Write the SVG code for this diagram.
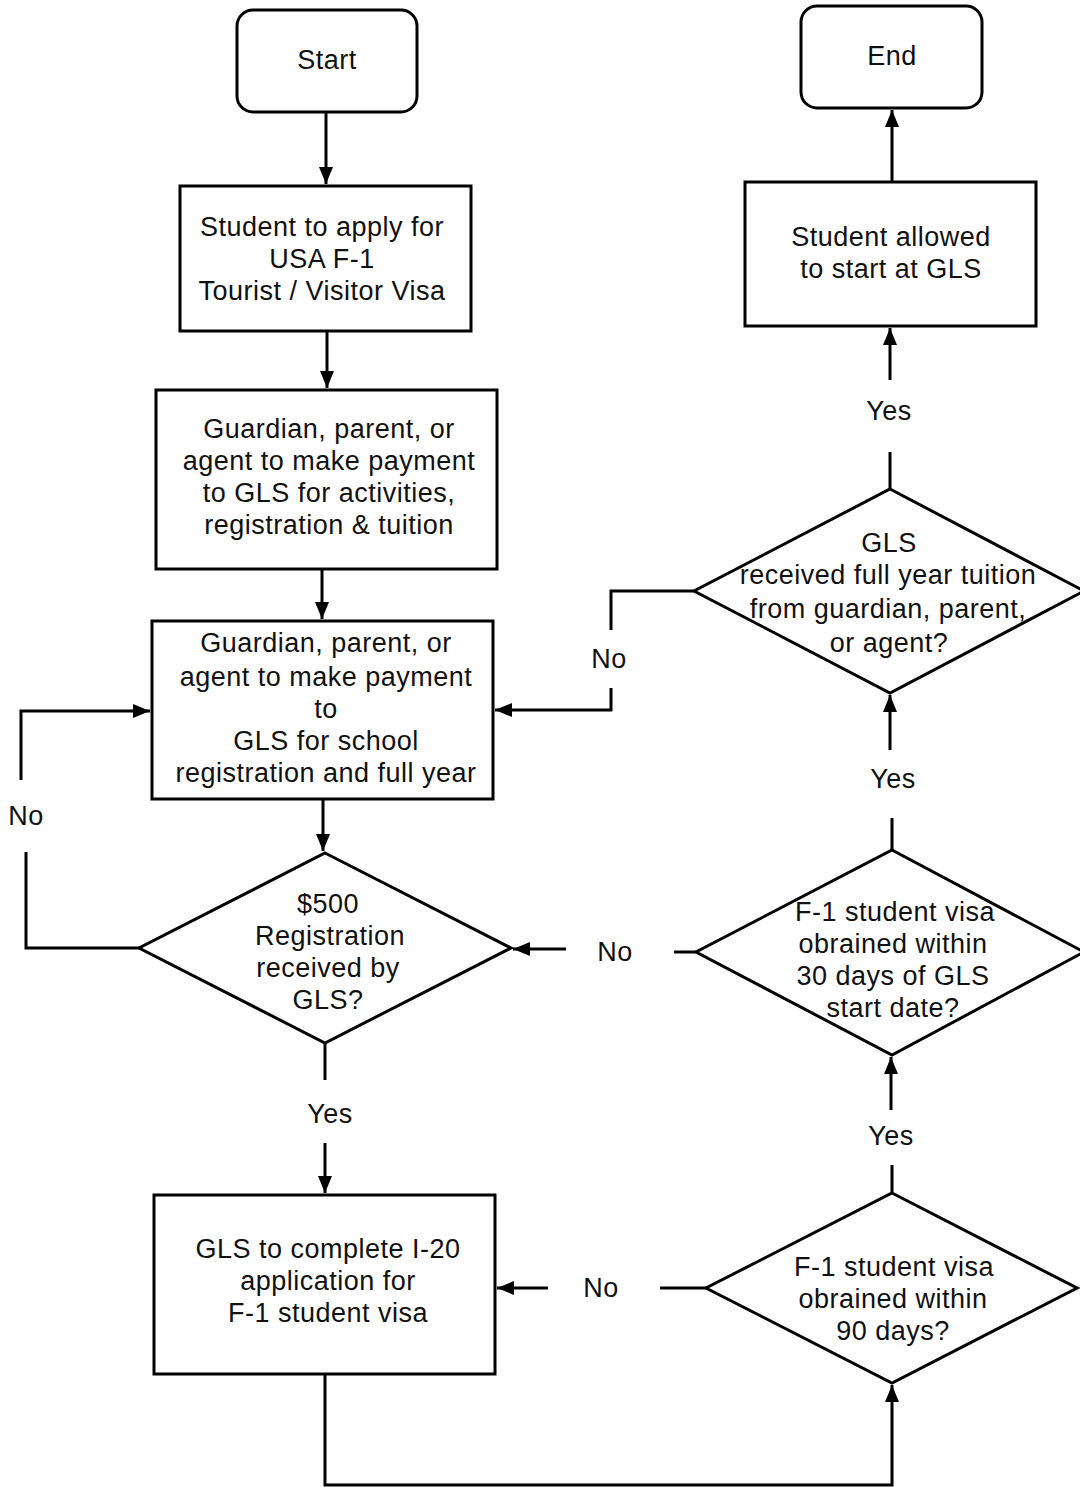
<svg xmlns="http://www.w3.org/2000/svg" width="1080" height="1487" viewBox="0 0 1080 1487">
<style>
.s{fill:#fff;stroke:#000;stroke-width:3}
.c{fill:none;stroke:#000;stroke-width:3}
text{font-family:"Liberation Sans",Arial,sans-serif;font-size:27px;letter-spacing:0.5px;fill:#111;text-anchor:middle}
</style>
<defs>
<marker id="a" markerUnits="userSpaceOnUse" markerWidth="18" markerHeight="14" refX="17" refY="7" orient="auto">
<path d="M0,0 L17,7 L0,14 z" fill="#000"/>
</marker>
</defs>
<rect width="1080" height="1487" fill="#fff"/>
<g id="connectors">
<path class="c" d="M326,112 V184" marker-end="url(#a)"/>
<path class="c" d="M327,331 V388" marker-end="url(#a)"/>
<path class="c" d="M322,569 V619" marker-end="url(#a)"/>
<path class="c" d="M323,799 V851" marker-end="url(#a)"/>
<path class="c" d="M325,1043 V1080"/>
<text x="330" y="1123">Yes</text>
<path class="c" d="M325,1143 V1193" marker-end="url(#a)"/>
<path class="c" d="M139,948 H26 V852"/>
<text x="26" y="825">No</text>
<path class="c" d="M21,780 V711 H150" marker-end="url(#a)"/>
<path class="c" d="M325,1374 V1485 H892 V1385" marker-end="url(#a)"/>
<path class="c" d="M892,1193 V1165"/>
<text x="891" y="1145">Yes</text>
<path class="c" d="M891,1110 V1057" marker-end="url(#a)"/>
<path class="c" d="M706,1288 H660"/>
<text x="601" y="1297">No</text>
<path class="c" d="M548,1288 H497" marker-end="url(#a)"/>
<path class="c" d="M696,952 H674"/>
<text x="615" y="961">No</text>
<path class="c" d="M566,949 H513" marker-end="url(#a)"/>
<path class="c" d="M892,850 V818"/>
<text x="893" y="788">Yes</text>
<path class="c" d="M890,750 V695" marker-end="url(#a)"/>
<path class="c" d="M694,591 H611 V630"/>
<text x="609" y="668">No</text>
<path class="c" d="M611,688 V710 H495" marker-end="url(#a)"/>
<path class="c" d="M890,489 V452"/>
<text x="889" y="420">Yes</text>
<path class="c" d="M890,380 V328" marker-end="url(#a)"/>
<path class="c" d="M892,182 V110" marker-end="url(#a)"/>
</g>
<g id="start">
<rect class="s" x="237" y="10" width="180" height="102" rx="16"/>
<text x="327" y="69">Start</text>
</g>
<g id="end">
<rect class="s" x="801" y="6" width="181" height="102" rx="16"/>
<text x="892" y="65">End</text>
</g>
<g id="apply">
<rect class="s" x="180" y="186" width="291" height="145"/>
<text x="322" y="236">Student to apply for</text>
<text x="322" y="268">USA F-1</text>
<text x="322" y="300">Tourist / Visitor Visa</text>
</g>
<g id="payment1">
<rect class="s" x="156" y="390" width="341" height="179"/>
<text x="329" y="438">Guardian, parent, or</text>
<text x="329" y="470">agent to make  payment</text>
<text x="329" y="502">to GLS for activities,</text>
<text x="329" y="534">registration &amp; tuition</text>
</g>
<g id="payment2">
<rect class="s" x="152" y="621" width="341" height="178"/>
<text x="326" y="652">Guardian, parent, or</text>
<text x="326" y="686">agent to make payment</text>
<text x="326" y="718">to</text>
<text x="326" y="750">GLS for school</text>
<text x="326" y="782">registration and full year</text>
</g>
<g id="registration">
<polygon class="s" points="325,853 511,948 325,1043 139,948"/>
<text x="328" y="913">$500</text>
<text x="330" y="945">Registration</text>
<text x="328" y="977">received by</text>
<text x="328" y="1009">GLS?</text>
</g>
<g id="i20">
<rect class="s" x="154" y="1195" width="341" height="179"/>
<text x="328" y="1258">GLS to complete I-20</text>
<text x="328" y="1290">application for</text>
<text x="328" y="1322">F-1 student visa</text>
</g>
<g id="allowed">
<rect class="s" x="745" y="182" width="291" height="144"/>
<text x="891" y="246">Student allowed</text>
<text x="891" y="278">to start at GLS</text>
</g>
<g id="tuition">
<polygon class="s" points="890,489 1084,591 890,693 694,591"/>
<text x="889" y="552">GLS</text>
<text x="888" y="584">received full year tuition</text>
<text x="888" y="618">from guardian, parent,</text>
<text x="889" y="652">or agent?</text>
</g>
<g id="visa30">
<polygon class="s" points="892,850 1084,952 892,1055 696,952"/>
<text x="895" y="921">F-1 student visa</text>
<text x="893" y="953">obrained within</text>
<text x="893" y="985">30 days of GLS</text>
<text x="893" y="1017">start date?</text>
</g>
<g id="visa90">
<polygon class="s" points="892,1193 1077,1288 892,1383 706,1288"/>
<text x="894" y="1276">F-1 student visa</text>
<text x="893" y="1308">obrained within</text>
<text x="893" y="1340">90 days?</text>
</g>
</svg>
